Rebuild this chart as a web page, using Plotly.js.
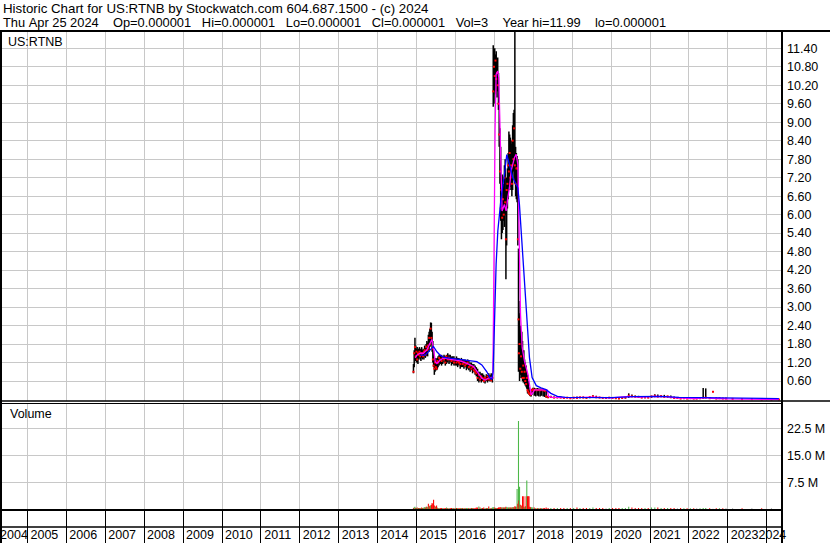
<!DOCTYPE html>
<html>
<head>
<meta charset="utf-8">
<script src="https://cdn.plot.ly/plotly-3.0.1.min.js"></script>
<style>html,body{margin:0;padding:0;background:#fff}#chart{width:830px;height:543px}</style>
</head>
<body>
<div id="chart"></div>
<script>
// ---------- DATA ----------
const dates = [
 "2014-12-03","2014-12-10","2014-12-17","2014-12-24","2014-12-31","2015-01-07","2015-01-14","2015-01-21","2015-01-28","2015-02-04",
 "2015-02-11","2015-02-18","2015-02-25","2015-03-04","2015-03-11","2015-03-18","2015-03-25","2015-04-01","2015-04-08","2015-04-15",
 "2015-04-22","2015-04-29","2015-05-06","2015-05-13","2015-05-20","2015-05-27","2015-06-03","2015-06-10","2015-06-17","2015-06-24",
 "2015-07-01","2015-07-08","2015-07-15","2015-07-22",
 "2015-08-01","2015-08-12","2015-08-24","2015-09-04","2015-09-16","2015-09-28","2015-10-09","2015-10-21","2015-11-02","2015-11-13",
 "2015-11-25","2015-12-07","2015-12-18","2015-12-30","2016-01-11","2016-01-22","2016-02-03","2016-02-15","2016-02-26","2016-03-09",
 "2016-03-21","2016-04-01","2016-04-13","2016-04-25","2016-05-06","2016-05-18","2016-05-30","2016-06-10","2016-06-22","2016-07-04",
 "2016-07-15","2016-07-27","2016-08-08","2016-08-19","2016-08-31","2016-09-12","2016-09-23","2016-10-05","2016-10-17","2016-10-28",
 "2016-11-09","2016-11-21","2016-12-02","2016-12-13",
 "2016-12-21","2016-12-28","2017-01-04","2017-01-11","2017-01-18","2017-01-25","2017-02-01","2017-02-08","2017-02-15","2017-02-22",
 "2017-03-01","2017-03-08","2017-03-15","2017-03-22","2017-03-29","2017-04-05","2017-04-12","2017-04-19","2017-04-26","2017-05-03",
 "2017-05-10","2017-05-17","2017-05-24","2017-05-31","2017-06-07","2017-06-14","2017-06-21","2017-06-28","2017-07-05","2017-07-12",
 "2017-07-19","2017-07-26","2017-08-02","2017-08-09","2017-08-15","2017-08-19","2017-08-25","2017-09-01","2017-09-08","2017-09-15",
 "2017-09-22","2017-09-29","2017-10-04","2017-10-11","2017-10-18","2017-10-26","2017-11-01","2017-11-08","2017-11-15","2017-11-22",
 "2017-11-29","2017-12-06","2017-12-13","2017-12-20","2017-12-28",
 "2018-01-10","2018-01-24","2018-02-07","2018-02-21","2018-03-07","2018-03-21","2018-04-04","2018-04-18","2018-05-02","2018-05-20",
 "2018-06-15","2018-07-15","2018-08-15","2018-09-15","2018-10-15","2018-11-15","2018-12-15","2019-01-15","2019-02-15","2019-03-15",
 "2019-04-15","2019-05-15","2019-06-15","2019-07-15","2019-08-15","2019-09-15","2019-10-15","2019-11-15","2019-12-15","2020-01-15",
 "2020-02-15","2020-03-15","2020-04-15","2020-05-15","2020-06-15","2020-07-15","2020-08-15","2020-09-15","2020-10-15","2020-11-15",
 "2020-12-15","2021-01-15","2021-02-15","2021-03-15","2021-04-15","2021-05-15","2021-06-15","2021-07-15","2021-08-15","2021-09-15",
 "2021-10-15","2021-11-15","2021-12-15","2022-01-15","2022-02-15","2022-03-15","2022-04-15","2022-05-15","2022-06-08","2022-07-15",
 "2022-08-15","2022-09-15","2022-10-15","2022-11-15","2022-12-15","2023-02-15","2023-05-15","2023-08-15","2023-11-15","2024-02-15",
 "2024-04-25"
];
const opens = [
 0.95,1.10,1.50,1.65,1.40,1.55,1.30,1.50,1.45,1.55, 1.40,1.50,1.45,1.50,1.40,1.55,1.60,1.45,1.70,1.60,
 1.75,1.65,2.00,1.80,2.30,2.00,1.65,1.30,1.10,1.00, 1.20,1.05,1.00,1.25,
 1.20,1.35,1.30,1.25,1.35,1.30,1.20,1.40,1.30,1.35, 1.30,1.25,1.30,1.20,1.30,1.20,1.25,1.20,1.15,1.25,
 1.15,1.20,1.10,1.15,1.20,1.05,1.10,1.00,1.05,0.95, 0.90,0.85,0.70,0.80,0.65,0.75,0.70,0.60,0.70,0.65,
 0.75,0.65,0.70,0.62,
 9.80,10.00,10.80,10.50,11.00,10.40,10.60,10.20,9.60,8.60, 7.40,6.20,6.80,5.90,6.50,6.00,7.20,6.40,5.20,6.80,
 7.00,7.60,7.40,8.00,7.20,7.60,7.00,8.40,7.80,8.80, 7.60,7.00,7.00,7.50,1.60,2.60,0.90,1.80,1.00,1.40,
 0.90,0.70,1.10,0.70,0.90,0.60,0.50,0.70,0.30,0.25, 0.20,0.18,0.15,0.20,0.30,
 0.33,0.30,0.32,0.30,0.31,0.30,0.32,0.30,0.28,0.10,
 0.07,0.08,0.06,0.07,0.06,0.05,0.06,0.04,0.06,0.05, 0.07,0.06,0.05,0.08,0.10,0.07,0.06,0.05,0.05,0.06,
 0.05,0.04,0.03,0.05,0.06,0.12,0.10,0.09,0.08,0.06, 0.07,0.06,0.10,0.12,0.09,0.11,0.08,0.10,0.07,0.05,
 0.05,0.03,0.04,0.03,0.04,0.03,0.03,0.04,0.05,0.06, 0.25,0.04,0.03,0.04,0.03,0.02,0.02,0.01,0.01,0.000001,
 0.000001
];
const highs = [
 1.15,1.60,2.00,1.75,1.65,1.70,1.60,1.65,1.70,1.65, 1.60,1.70,1.60,1.65,1.60,1.75,1.70,1.80,1.90,1.85,
 2.10,2.20,2.30,2.50,2.49,2.20,1.90,1.60,1.40,1.30, 1.35,1.30,1.35,1.40,
 1.45,1.45,1.45,1.40,1.45,1.40,1.45,1.50,1.45,1.45, 1.40,1.40,1.40,1.35,1.40,1.35,1.35,1.30,1.35,1.30,
 1.30,1.30,1.25,1.30,1.25,1.20,1.20,1.15,1.15,1.10, 1.05,1.00,0.90,0.90,0.85,0.85,0.80,0.75,0.82,0.80,
 0.85,0.80,0.85,0.75,
 11.50,11.30,11.40,11.20,11.30,11.00,11.10,10.60,9.80,8.80, 8.20,7.00,7.30,6.90,7.00,7.60,7.80,6.80,7.20,7.50,
 8.00,8.70,8.60,8.50,8.30,8.40,8.90,9.30,9.40,11.99, 8.20,8.00,7.90,7.80,4.90,3.20,2.80,2.40,2.00,2.20,
 1.90,1.50,1.60,1.30,1.20,1.10,0.90,0.80,0.60,0.40, 0.30,0.25,0.22,0.35,0.38,
 0.38,0.36,0.37,0.36,0.36,0.35,0.34,0.33,0.30,0.12,
 0.12,0.10,0.09,0.10,0.08,0.08,0.07,0.08,0.10,0.09, 0.10,0.08,0.09,0.14,0.12,0.09,0.08,0.07,0.07,0.08,
 0.07,0.06,0.06,0.08,0.20,0.16,0.13,0.12,0.10,0.09, 0.09,0.12,0.17,0.16,0.14,0.15,0.12,0.13,0.10,0.08,
 0.07,0.06,0.06,0.05,0.06,0.05,0.05,0.37,0.36,0.08, 0.26,0.06,0.05,0.05,0.04,0.03,0.02,0.02,0.01,0.01,
 0.000001
];
const lows = [
 0.85,1.05,1.30,1.25,1.20,1.20,1.15,1.30,1.35,1.30, 1.25,1.35,1.30,1.35,1.30,1.40,1.35,1.40,1.45,1.40,
 1.60,1.55,1.70,1.75,1.85,1.55,1.20,1.05,0.80,0.90, 0.95,0.95,0.98,1.05,
 1.10,1.15,1.10,1.15,1.20,1.10,1.15,1.20,1.15,1.20, 1.10,1.15,1.10,1.10,1.10,1.05,1.10,1.00,1.05,1.05,
 1.00,1.05,0.95,1.00,0.95,0.90,0.95,0.85,0.90,0.80, 0.75,0.60,0.55,0.60,0.55,0.60,0.55,0.52,0.60,0.55,
 0.60,0.58,0.60,0.55,
 9.50,9.60,10.00,9.90,10.20,9.80,10.00,9.40,8.20,7.00, 5.80,5.20,5.40,5.50,5.80,5.60,6.00,3.90,5.00,6.20,
 6.50,6.90,6.80,6.90,6.80,6.60,6.80,7.40,7.20,7.00, 6.60,6.50,6.40,5.00,0.90,1.20,0.60,0.80,0.70,0.70,
 0.60,0.55,0.60,0.50,0.45,0.40,0.35,0.20,0.18,0.15, 0.12,0.10,0.10,0.15,0.25,
 0.12,0.10,0.12,0.10,0.10,0.12,0.10,0.08,0.06,0.05,
 0.05,0.05,0.04,0.05,0.04,0.04,0.03,0.03,0.04,0.04, 0.05,0.04,0.04,0.06,0.06,0.05,0.04,0.03,0.04,0.04,
 0.03,0.02,0.02,0.03,0.05,0.08,0.07,0.06,0.05,0.04, 0.05,0.05,0.07,0.08,0.07,0.07,0.06,0.06,0.04,0.03,
 0.02,0.02,0.02,0.02,0.02,0.02,0.02,0.03,0.04,0.03, 0.24,0.02,0.02,0.02,0.02,0.01,0.01,0.005,0.000001,0.000001,
 0.000001
];
const closes = [
 0.90,1.50,1.70,1.40,1.55,1.30,1.50,1.45,1.55,1.40, 1.50,1.45,1.50,1.40,1.55,1.60,1.45,1.70,1.60,1.75,
 1.65,2.00,1.80,2.30,2.00,1.65,1.30,1.10,1.00,1.20, 1.05,1.00,1.25,1.20,
 1.35,1.30,1.25,1.35,1.30,1.20,1.40,1.30,1.35,1.30, 1.25,1.30,1.20,1.30,1.20,1.25,1.20,1.15,1.25,1.15,
 1.20,1.10,1.15,1.20,1.05,1.10,1.00,1.05,0.95,0.90, 0.85,0.70,0.80,0.65,0.75,0.70,0.60,0.70,0.65,0.75,
 0.65,0.70,0.62,0.70,
 10.00,10.80,10.50,11.00,10.40,10.60,10.20,9.60,8.60,7.40, 6.20,6.80,5.90,6.50,6.00,7.20,6.40,5.20,6.80,7.00,
 7.60,7.40,8.00,7.20,7.60,7.00,8.40,7.80,8.80,7.60, 7.00,7.50,7.50,5.20,2.60,1.50,1.80,1.00,1.40,0.90,
 0.70,1.10,0.70,0.90,0.60,0.50,0.70,0.30,0.25,0.20, 0.18,0.15,0.20,0.30,0.33,
 0.30,0.32,0.30,0.31,0.30,0.32,0.30,0.28,0.10,0.07,
 0.08,0.06,0.07,0.06,0.05,0.06,0.04,0.06,0.05,0.07, 0.06,0.05,0.08,0.10,0.07,0.06,0.05,0.05,0.06,0.05,
 0.04,0.03,0.05,0.06,0.12,0.10,0.09,0.08,0.06,0.07, 0.06,0.10,0.12,0.09,0.11,0.08,0.10,0.07,0.05,0.05,
 0.03,0.04,0.03,0.04,0.03,0.03,0.04,0.05,0.06,0.04, 0.25,0.03,0.04,0.03,0.03,0.02,0.01,0.01,0.000001,0.000001,
 0.000001
];
// volume in millions of shares
const volumes = [
 0.3,0.5,0.6,0.3,0.3,0.4,0.3,0.3,0.3,0.3, 0.3,0.4,0.3,0.3,0.4,0.5,0.4,0.6,0.6,0.5,
 1.5,0.8,0.9,1.0,1.2,1.7,1.4,2.6,1.0,0.6, 0.7,1.0,0.4,0.3,
 0.3,0.3,0.3,0.3,0.3,0.3,0.4,0.3,0.3,0.3, 0.3,0.3,0.3,0.3,0.3,0.3,0.3,0.3,0.3,0.3,
 0.3,0.3,0.3,0.3,0.3,0.3,0.3,0.3,0.3,0.3, 0.4,0.4,0.7,0.4,0.3,0.3,0.4,0.3,0.3,0.3,
 0.7,0.3,0.3,0.4,
 0.5,0.4,0.4,0.3,0.3,0.3,0.3,0.4,0.4,0.5, 0.5,0.4,0.4,0.4,0.4,0.4,0.4,0.6,0.5,0.4,
 0.4,0.4,0.4,0.4,0.4,0.4,0.5,0.5,0.5,0.8, 0.6,0.6,5.6,1.5,24.6,2.4,6.2,1.2,0.8,1.0,
 3.6,0.6,3.6,0.5,0.8,3.6,8.0,3.6,3.6,3.6, 0.6,0.5,0.5,0.4,0.4,
 0.4,0.3,0.3,0.3,0.3,0.3,0.3,0.3,0.4,0.3,
 0.3,0.3,0.3,0.3,0.3,0.3,0.3,0.3,0.4,0.3, 0.3,0.3,0.3,0.4,0.3,0.3,0.3,0.2,0.3,0.3,
 0.3,0.3,0.3,0.3,0.6,0.4,0.3,0.3,0.3,0.3, 0.3,0.4,0.4,0.4,0.3,0.3,0.3,0.3,0.3,0.2,
 0.3,0.2,0.2,0.2,0.2,0.2,0.2,0.3,0.3,0.2, 0.1,0.2,0.2,0.2,0.2,0.2,0.2,0.2,0.2,0.2,
 0.000003
];
// short moving average (magenta)
const maFastDates = ["2014-12-20","2015-01-04","2015-02-04","2015-03-07","2015-04-08","2015-05-09","2015-05-25","2015-06-09","2015-06-25","2015-07-11",
 "2015-08-11","2015-09-12","2015-11-13","2016-02-14","2016-04-17","2016-06-19","2016-08-04","2016-09-05","2016-10-06","2016-11-06",
 "2016-12-08","2016-12-17","2016-12-23","2016-12-29","2017-01-07","2017-01-17","2017-02-02","2017-02-11","2017-02-24","2017-03-05",
 "2017-03-14","2017-04-05","2017-04-21","2017-05-07","2017-05-22","2017-06-07","2017-07-08","2017-07-24","2017-08-09","2017-08-18",
 "2017-08-24","2017-09-03","2017-09-19","2017-10-10","2017-11-11","2017-11-28","2017-12-12","2017-12-28","2018-01-12","2018-05-10",
 "2018-05-25","2018-07-01","2019-01-01","2019-07-15","2020-01-01","2020-06-20","2020-10-01","2021-02-15","2021-06-01","2021-09-01",
 "2022-03-01","2022-06-15","2022-08-01","2023-01-01","2024-04-25"];
const maFast = [1.35,1.44,1.50,1.50,1.61,1.82,1.95,1.66,1.23,1.17,
 1.28,1.34,1.31,1.25,1.17,1.07,0.85,0.69,0.63,0.69,
 0.72,0.71,2.55,5.47,8.72,10.55,10.66,10.45,8.72,7.09,
 6.12,6.33,6.12,6.55,6.87,7.42,7.85,7.96,7.63,6.01,
 4.39,2.76,1.68,1.25,0.82,0.45,0.15,0.22,0.31,0.31,
 0.10,0.07,0.06,0.08,0.05,0.10,0.08,0.10,0.09,0.05,
 0.03,0.06,0.04,0.02,0.000001];
// long moving average (blue)
const maSlowDates = ["2015-02-04","2015-03-23","2015-05-09","2015-06-09","2015-07-11","2015-08-11","2015-09-12","2015-11-13","2016-04-17","2016-07-20",
 "2016-09-05","2016-10-22","2016-11-23","2016-12-08","2016-12-20","2017-01-01","2017-01-17","2017-02-02","2017-03-05","2017-04-05",
 "2017-04-27","2017-05-22","2017-06-23","2017-07-24","2017-08-09","2017-08-24","2017-09-09","2017-09-25","2017-10-20","2017-11-11",
 "2017-11-26","2017-12-21","2018-01-29","2018-03-15","2018-05-01","2018-06-15","2018-08-15","2018-11-01","2019-06-01","2020-01-01",
 "2020-08-01","2021-04-01","2021-10-01","2022-06-01","2023-01-01","2023-03-01","2024-04-25"];
const maSlow = [1.44,1.44,1.61,1.72,1.55,1.44,1.37,1.34,1.28,1.23,
 1.12,0.90,0.69,0.66,0.90,2.76,4.39,5.47,6.55,7.31,
 7.95,7.63,7.20,6.98,6.87,6.33,5.47,4.39,3.30,2.22,
 1.36,0.71,0.45,0.38,0.32,0.20,0.10,0.07,0.07,0.06,
 0.09,0.10,0.07,0.06,0.06,0.04,0.03];

const yearLabels = [2004,2005,2006,2007,2008,2009,2010,2011,2012,2013,2014,2015,2016,2017,2018,2019,2020,2021,2022,2023,2024];
const priceTicks = [0.6,1.2,1.8,2.4,3.0,3.6,4.2,4.8,5.4,6.0,6.6,7.2,7.8,8.4,9.0,9.6,10.2,10.8,11.4];
const volTicks = [7.5,15.0,22.5];
const volTickText = ["7.5 M","15.0 M","22.5 M"];

const header1 = "Historic Chart for US:RTNB by Stockwatch.com 604.687.1500 - (c) 2024";
const header2 = "Thu Apr 25 2024    Op=0.000001   Hi=0.000001   Lo=0.000001   Cl=0.000001   Vol=3    Year hi=11.99    lo=0.000001";

// ---------- GEOMETRY ----------
const L = 2, R = 782, T = 31, B = 509, W = R - L, H = B - T;
const xStart = "2004-05-06", xEnd = "2024-05-24";
const t0 = Date.parse(xStart), t1 = Date.parse(xEnd);
const px2date = p => new Date(t0 + (p - L) / W * (t1 - t0)).toISOString().slice(0, 10);
const date2px = d => L + (Date.parse(d) - t0) / (t1 - t0) * W;
const pxX = p => (p - L) / W;
const pxY = p => (B - p) / H;
const nb = s => s.replace(/ /g, "\u00a0");

const yearStarts = yearLabels.map(y => y + "-01-01");
const labelPos = yearLabels.map(y => px2date(Math.min(Math.max(date2px(y + "-01-01") + 16.9, 14), 772.5)));

const volColors = opens.map((o, i) => closes[i] > o ? "#4cb848" : (closes[i] < o ? "#ff0000" : "#a0a0a0"));

const FONT = '"Liberation Sans", Arial, sans-serif';

const traces = [
  {type: "bar", x: dates, y: volumes, xaxis: "x", yaxis: "y2", width: 10 * 864e5,
   marker: {color: volColors, line: {width: 0}}, hoverinfo: "skip"},
  {type: "ohlc", x: dates, open: opens, high: highs, low: lows, close: closes, xaxis: "x", yaxis: "y",
   tickwidth: 0, increasing: {line: {color: "#000", width: 1.5}}, decreasing: {line: {color: "#000", width: 1.5}},
   hoverinfo: "skip"},
  {type: "scatter", mode: "markers", x: dates, y: closes, xaxis: "x", yaxis: "y",
   marker: {symbol: "square", size: 2, color: "#ff0000"}, hoverinfo: "skip"},
  {type: "scatter", mode: "lines", x: maFastDates, y: maFast, xaxis: "x", yaxis: "y",
   line: {color: "#ff00ff", width: 1.3}, hoverinfo: "skip"},
  {type: "scatter", mode: "lines", x: maSlowDates, y: maSlow, xaxis: "x", yaxis: "y",
   line: {color: "#0000ff", width: 1.3}, hoverinfo: "skip"}
];

const hline = (y, xa, xb, w) => ({type: "line", xref: "paper", yref: "paper", x0: pxX(xa), x1: pxX(xb), y0: pxY(y), y1: pxY(y), line: {color: "#000", width: w}});
const vline = (x, ya, yb, w) => ({type: "line", xref: "paper", yref: "paper", x0: pxX(x), x1: pxX(x), y0: pxY(ya), y1: pxY(yb), line: {color: "#000", width: w}});

const ann = (text, x, y, size) => ({text: nb(text), xref: "paper", yref: "paper", x: pxX(x), y: pxY(y),
  xanchor: "left", yanchor: "middle", showarrow: false, font: {family: FONT, size: size || 12.5, color: "#000"}});

const layout = {
  width: 830, height: 543,
  margin: {l: L, r: 830 - R, t: T, b: 543 - B, pad: 0},
  paper_bgcolor: "#fff", plot_bgcolor: "#fff", showlegend: false,
  font: {family: FONT, size: 12.5, color: "#000"},
  xaxis: {
    type: "date", range: [xStart, xEnd], anchor: "y2", fixedrange: true,
    tickmode: "array", tickvals: labelPos, ticktext: yearLabels.map(String), tickangle: 0,
    ticklabeloverflow: "allow",
    ticks: "", showgrid: false, zeroline: false,
    showline: true, linecolor: "#000", linewidth: 2,
    ticklabelstandoff: 13, tickfont: {family: FONT, size: 12.5, color: "#000"},
    rangeslider: {visible: false},
    minor: {tickmode: "array", tickvals: yearStarts, ticks: "outside", ticklen: 34, tickwidth: 1, tickcolor: "#000",
            showgrid: true, gridcolor: "#c8c8c8", gridwidth: 1}
  },
  yaxis: {
    domain: [pxY(401), 1], range: [-0.049, 11.96], side: "right", fixedrange: true,
    tickmode: "array", tickvals: priceTicks, tickformat: ".2f",
    showgrid: true, gridcolor: "#c8c8c8", gridwidth: 1, zeroline: false, ticks: "",
    ticklabelstandoff: 4,
    tickfont: {family: FONT, size: 12.5, color: "#000"}
  },
  yaxis2: {
    domain: [0, pxY(403.5)], range: [0, 29.5], side: "right", anchor: "x", fixedrange: true,
    tickmode: "array", tickvals: volTicks, ticktext: volTickText,
    showgrid: true, gridcolor: "#c8c8c8", gridwidth: 1, zeroline: false, ticks: "",
    ticklabelstandoff: 4,
    tickfont: {family: FONT, size: 12.5, color: "#000"}
  },
  shapes: [
    hline(31, 0, 830, 2),
    hline(401, 0, 830, 1.5),
    hline(403.5, 0, 782, 1),
    hline(527, 0, 782, 1.5),
    vline(1, 31, 543, 2),
    vline(782, 31, 543, 2)
  ],
  annotations: [
    ann(header1, 1, 8.5, 13.3),
    ann(header2, 1, 22.5, 12.85),
    ann("US:RTNB", 6, 42),
    ann("Volume", 8, 414)
  ]
};

Plotly.newPlot("chart", traces, layout, {staticPlot: true, displayModeBar: false});
</script>
</body>
</html>
